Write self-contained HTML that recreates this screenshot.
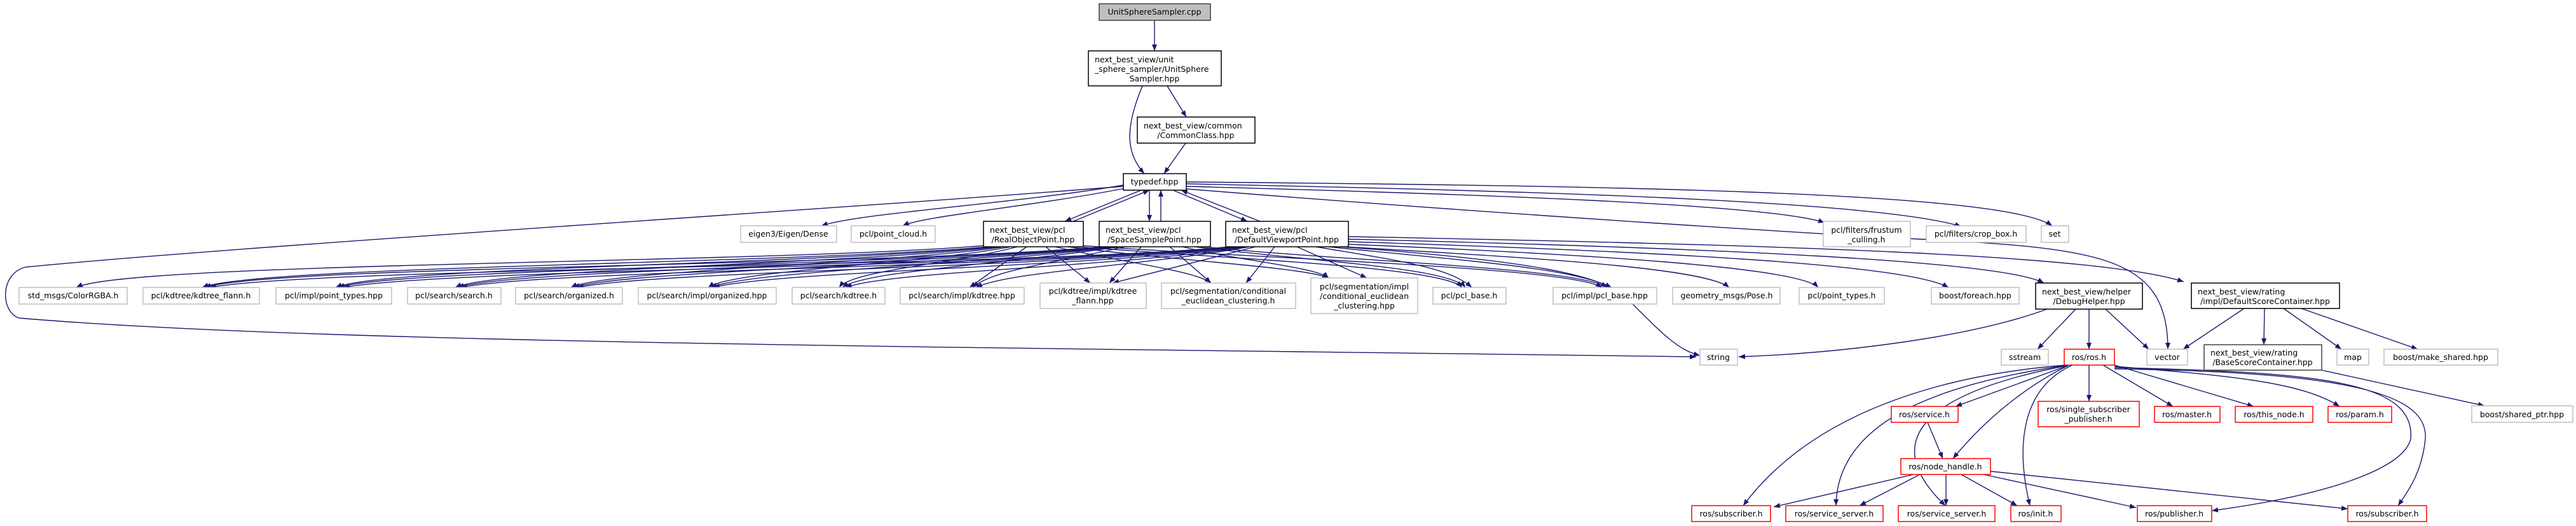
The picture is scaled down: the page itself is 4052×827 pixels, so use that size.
<!DOCTYPE html>
<html><head><meta charset="utf-8"><style>
html,body{margin:0;padding:0;background:#fff;}
svg{display:block;}
text{font-family:"DejaVu Sans","Liberation Sans",sans-serif;font-size:12.5px;fill:#000;}
.e{fill:none;stroke:#191970;stroke-width:1.4;marker-end:url(#a);}
.g{fill:#fff;stroke:#bfbfbf;stroke-width:1.5;}
.b{fill:#fff;stroke:#000;stroke-width:1.5;}
.r{fill:#fff;stroke:#ff0000;stroke-width:1.5;}
</style></head><body>
<svg width="4052" height="827" viewBox="0 0 4052 827" xmlns="http://www.w3.org/2000/svg">
<defs><marker id="a" markerUnits="userSpaceOnUse" markerWidth="11" markerHeight="8" refX="10" refY="4" orient="auto"><path d="M0,0 L10,4 L0,8 z" fill="#191970"/></marker></defs>
<g>
<path class="e" d="M1816,32 L1816,80"/>
<path class="e" d="M1836,135 L1866,184"/>
<path class="e" d="M1797,135 C1770,200 1770,240 1800,273"/>
<path class="e" d="M1865,225 L1831,273"/>
<path class="e" d="M1767,291 C1600,320 1350,335 1292,355"/>
<path class="e" d="M1770,296 C1620,325 1450,340 1420,355"/>
<path class="e" d="M1795,299 L1675,348"/>
<path class="e" d="M1688,348 L1808,299"/>
<path class="e" d="M1808,299 L1808,348"/>
<path class="e" d="M1826,348 L1826,299"/>
<path class="e" d="M1845,299 L1962,348"/>
<path class="e" d="M1982,348 L1858,299"/>
<path class="e" d="M1866,293 C2300,305 2780,320 2870,350"/>
<path class="e" d="M1866,289 C2400,300 2950,315 3085,356"/>
<path class="e" d="M1866,286 C2500,292 3150,300 3228,355"/>
<path class="e" d="M1866,297 C2400,340 2900,370 3000,375 C3300,390 3410,400 3410,549"/>
<path class="e" d="M1767,293 C1300,330 400,385 40,420 C0,430 0,490 30,500 C500,540 1500,545 2668,561"/>
<path class="e" d="M1550,386 C1200,415 200,412 120,452"/>
<path class="e" d="M1555,388 C1250,415 400,418 318,452"/>
<path class="e" d="M1560,388 C1300,415 600,420 528,452"/>
<path class="e" d="M1570,388 C1350,415 780,422 716,452"/>
<path class="e" d="M1580,388 C1400,415 950,425 898,452"/>
<path class="e" d="M1590,388 C1450,415 1150,425 1114,452"/>
<path class="e" d="M1600,388 C1500,415 1340,425 1320,452"/>
<path class="e" d="M1615,388 L1525,452"/>
<path class="e" d="M1645,388 L1715,445"/>
<path class="e" d="M1660,388 C1750,410 1880,425 1905,445"/>
<path class="e" d="M1680,388 C1850,410 2050,420 2090,437"/>
<path class="e" d="M1695,388 C1950,408 2270,420 2300,452"/>
<path class="e" d="M1700,386 C2000,408 2470,420 2520,452"/>
<path class="e" d="M1735,388 C1400,418 420,418 322,452"/>
<path class="e" d="M1740,388 C1420,418 620,422 532,452"/>
<path class="e" d="M1745,388 C1450,418 800,424 720,452"/>
<path class="e" d="M1750,388 C1480,418 980,426 902,452"/>
<path class="e" d="M1755,388 C1520,418 1180,426 1118,452"/>
<path class="e" d="M1760,388 C1560,418 1360,426 1325,452"/>
<path class="e" d="M1770,388 C1650,415 1560,425 1530,452"/>
<path class="e" d="M1795,388 L1745,445"/>
<path class="e" d="M1840,388 L1905,445"/>
<path class="e" d="M1860,388 C1950,410 2070,420 2090,437"/>
<path class="e" d="M1880,388 C2050,410 2280,420 2305,452"/>
<path class="e" d="M1895,388 C2100,410 2480,420 2528,452"/>
<path class="e" d="M1935,388 C1600,420 500,420 330,452"/>
<path class="e" d="M1940,388 C1620,420 700,422 540,452"/>
<path class="e" d="M1945,388 C1650,420 860,424 725,452"/>
<path class="e" d="M1950,388 C1680,420 1030,426 908,452"/>
<path class="e" d="M1955,388 C1720,420 1220,426 1122,452"/>
<path class="e" d="M1960,388 C1760,420 1400,426 1330,452"/>
<path class="e" d="M1965,388 C1800,418 1590,426 1535,452"/>
<path class="e" d="M1975,388 L1750,445"/>
<path class="e" d="M2005,388 L1960,445"/>
<path class="e" d="M2040,388 L2150,437"/>
<path class="e" d="M2070,388 C2200,410 2280,420 2315,452"/>
<path class="e" d="M2090,388 C2300,410 2470,420 2535,452"/>
<path class="e" d="M2115,388 C2400,405 2680,420 2720,452"/>
<path class="e" d="M2121,384 C2500,400 2830,420 2860,452"/>
<path class="e" d="M2121,380 C2600,395 3000,415 3065,452"/>
<path class="e" d="M2121,376 C2700,390 3150,410 3215,445"/>
<path class="e" d="M2121,372 C2800,385 3300,400 3435,443"/>
<path class="e" d="M2110,388 C2400,410 2520,430 2560,470 C2620,530 2640,550 2674,559"/>
<path class="e" d="M3220,486 C3100,530 2900,555 2735,561"/>
<path class="e" d="M3265,486 L3205,549"/>
<path class="e" d="M3286,486 L3286,549"/>
<path class="e" d="M3312,486 L3380,549"/>
<path class="e" d="M3530,485 L3434,549"/>
<path class="e" d="M3562,485 L3561,542"/>
<path class="e" d="M3592,485 L3683,549"/>
<path class="e" d="M3620,485 L3803,549"/>
<path class="e" d="M3652,582 L3908,638"/>
<path class="e" d="M3255,574 L3076,639"/>
<path class="e" d="M3286,574 L3286,631"/>
<path class="e" d="M3308,574 L3418,639"/>
<path class="e" d="M3326,574 L3545,639"/>
<path class="e" d="M3326,576 C3500,590 3620,600 3680,639"/>
<path class="e" d="M3255,574 C3200,600 3130,650 3072,721"/>
<path class="e" d="M3260,574 C3180,610 3170,700 3193,795"/>
<path class="e" d="M3250,574 C3050,590 2850,650 2742,795"/>
<path class="e" d="M3252,574 C3080,600 2890,650 2888,795"/>
<path class="e" d="M3256,574 C3010,620 2960,700 3060,795"/>
<path class="e" d="M3326,578 C3650,585 3800,600 3792,690 C3780,740 3650,780 3479,803"/>
<path class="e" d="M3326,580 C3700,585 3820,620 3815,690 C3810,740 3790,770 3772,795"/>
<path class="e" d="M3032,664 L3056,721"/>
<path class="e" d="M3010,746 L2790,797"/>
<path class="e" d="M3020,746 L2925,795"/>
<path class="e" d="M3061,746 L3061,795"/>
<path class="e" d="M3085,746 L3173,795"/>
<path class="e" d="M3120,746 L3360,798"/>
<path class="e" d="M3131,741 C3350,765 3550,785 3693,800"/>
</g>
<g>
<rect x="1729" y="6" width="175" height="26" fill="#bfbfbf" stroke="#404040" stroke-width="1.5"/><text x="1816" y="23" text-anchor="middle">UnitSphereSampler.cpp</text>
<rect class="b" x="1712" y="80" width="209" height="55"/><text x="1722" y="98">next_best_view/unit</text><text x="1722" y="113">_sphere_sampler/UnitSphere</text><text x="1816" y="128" text-anchor="middle">Sampler.hpp</text>
<rect class="b" x="1789" y="184" width="185" height="41"/><text x="1799" y="202">next_best_view/common</text><text x="1881" y="217" text-anchor="middle">/CommonClass.hpp</text>
<rect class="b" x="1767" y="273" width="99" height="26"/><text x="1816" y="290" text-anchor="middle">typedef.hpp</text>
<rect class="g" x="1165" y="355" width="151" height="26"/><text x="1240" y="372" text-anchor="middle">eigen3/Eigen/Dense</text>
<rect class="g" x="1339" y="355" width="132" height="26"/><text x="1405" y="372" text-anchor="middle">pcl/point_cloud.h</text>
<rect class="b" x="1547" y="348" width="157" height="40"/><text x="1557" y="366">next_best_view/pcl</text><text x="1625" y="381" text-anchor="middle">/RealObjectPoint.hpp</text>
<rect class="b" x="1729" y="348" width="175" height="40"/><text x="1739" y="366">next_best_view/pcl</text><text x="1816" y="381" text-anchor="middle">/SpaceSamplePoint.hpp</text>
<rect class="b" x="1928" y="348" width="193" height="40"/><text x="1938" y="366">next_best_view/pcl</text><text x="2024" y="381" text-anchor="middle">/DefaultViewportPoint.hpp</text>
<rect class="g" x="2868" y="348" width="137" height="40"/><text x="2936" y="366" text-anchor="middle">pcl/filters/frustum</text><text x="2936" y="381" text-anchor="middle">_culling.h</text>
<rect class="g" x="3030" y="355" width="157" height="26"/><text x="3108" y="372" text-anchor="middle">pcl/filters/crop_box.h</text>
<rect class="g" x="3211" y="355" width="43" height="26"/><text x="3232" y="372" text-anchor="middle">set</text>

<rect class="g" x="30" y="452" width="170" height="26"/><text x="115" y="469" text-anchor="middle">std_msgs/ColorRGBA.h</text>
<rect class="g" x="225" y="452" width="183" height="26"/><text x="316" y="469" text-anchor="middle">pcl/kdtree/kdtree_flann.h</text>
<rect class="g" x="434" y="452" width="182" height="26"/><text x="525" y="469" text-anchor="middle">pcl/impl/point_types.hpp</text>
<rect class="g" x="641" y="452" width="147" height="26"/><text x="714" y="469" text-anchor="middle">pcl/search/search.h</text>
<rect class="g" x="811" y="452" width="168" height="26"/><text x="895" y="469" text-anchor="middle">pcl/search/organized.h</text>
<rect class="g" x="1004" y="452" width="217" height="26"/><text x="1112" y="469" text-anchor="middle">pcl/search/impl/organized.hpp</text>
<rect class="g" x="1246" y="452" width="146" height="26"/><text x="1319" y="469" text-anchor="middle">pcl/search/kdtree.h</text>
<rect class="g" x="1416" y="452" width="195" height="26"/><text x="1513" y="469" text-anchor="middle">pcl/search/impl/kdtree.hpp</text>
<rect class="g" x="1636" y="445" width="167" height="40"/><text x="1719" y="462" text-anchor="middle">pcl/kdtree/impl/kdtree</text><text x="1719" y="477" text-anchor="middle">_flann.hpp</text>
<rect class="g" x="1827" y="445" width="211" height="40"/><text x="1932" y="462" text-anchor="middle">pcl/segmentation/conditional</text><text x="1932" y="477" text-anchor="middle">_euclidean_clustering.h</text>
<rect class="g" x="2062" y="437" width="168" height="56"/><text x="2146" y="455" text-anchor="middle">pcl/segmentation/impl</text><text x="2146" y="470" text-anchor="middle">/conditional_euclidean</text><text x="2146" y="485" text-anchor="middle">_clustering.hpp</text>
<rect class="g" x="2254" y="452" width="115" height="26"/><text x="2311" y="469" text-anchor="middle">pcl/pcl_base.h</text>
<rect class="g" x="2443" y="452" width="163" height="26"/><text x="2524" y="469" text-anchor="middle">pcl/impl/pcl_base.hpp</text>
<rect class="g" x="2631" y="452" width="169" height="26"/><text x="2716" y="469" text-anchor="middle">geometry_msgs/Pose.h</text>
<rect class="g" x="2830" y="452" width="134" height="26"/><text x="2897" y="469" text-anchor="middle">pcl/point_types.h</text>
<rect class="g" x="3038" y="452" width="138" height="26"/><text x="3107" y="469" text-anchor="middle">boost/foreach.hpp</text>
<rect class="b" x="3202" y="445" width="168" height="41"/><text x="3212" y="463">next_best_view/helper</text><text x="3286" y="478" text-anchor="middle">/DebugHelper.hpp</text>
<rect class="b" x="3447" y="445" width="233" height="40"/><text x="3457" y="463">next_best_view/rating</text><text x="3563" y="478" text-anchor="middle">/impl/DefaultScoreContainer.hpp</text>

<rect class="g" x="2674" y="549" width="59" height="25"/><text x="2703" y="566" text-anchor="middle">string</text>
<rect class="g" x="3148" y="549" width="74" height="25"/><text x="3185" y="566" text-anchor="middle">sstream</text>
<rect class="r" x="3247" y="549" width="79" height="25"/><text x="3286" y="566" text-anchor="middle">ros/ros.h</text>
<rect class="g" x="3377" y="549" width="64" height="25"/><text x="3409" y="566" text-anchor="middle">vector</text>
<rect x="3467" y="542" width="185" height="40" fill="#fff" stroke="#404040" stroke-width="1.5"/><text x="3477" y="559">next_best_view/rating</text><text x="3559" y="574" text-anchor="middle">/BaseScoreContainer.hpp</text>
<rect class="g" x="3676" y="549" width="50" height="25"/><text x="3701" y="566" text-anchor="middle">map</text>
<rect class="g" x="3750" y="549" width="179" height="25"/><text x="3839" y="566" text-anchor="middle">boost/make_shared.hpp</text>

<rect class="r" x="2975" y="639" width="105" height="25"/><text x="3027" y="656" text-anchor="middle">ros/service.h</text>
<rect class="r" x="3206" y="631" width="159" height="40"/><text x="3285" y="648" text-anchor="middle">ros/single_subscriber</text><text x="3285" y="663" text-anchor="middle">_publisher.h</text>
<rect class="r" x="3389" y="639" width="103" height="25"/><text x="3440" y="656" text-anchor="middle">ros/master.h</text>
<rect class="r" x="3516" y="639" width="122" height="25"/><text x="3577" y="656" text-anchor="middle">ros/this_node.h</text>
<rect class="r" x="3662" y="639" width="100" height="25"/><text x="3712" y="656" text-anchor="middle">ros/param.h</text>
<rect class="g" x="3888" y="638" width="159" height="26"/><text x="3967" y="656" text-anchor="middle">boost/shared_ptr.hpp</text>
<rect class="r" x="2990" y="721" width="141" height="25"/><text x="3060" y="738" text-anchor="middle">ros/node_handle.h</text>

<rect class="r" x="2661" y="795" width="124" height="25"/><text x="2723" y="812" text-anchor="middle">ros/subscriber.h</text>
<rect class="r" x="2809" y="795" width="153" height="25"/><text x="2885" y="812" text-anchor="middle">ros/service_server.h</text>
<rect class="r" x="2986" y="795" width="152" height="25"/><text x="3062" y="812" text-anchor="middle">ros/service_server.h</text>
<rect class="r" x="3163" y="795" width="79" height="25"/><text x="3202" y="812" text-anchor="middle">ros/init.h</text>
<rect class="r" x="3362" y="795" width="117" height="25"/><text x="3420" y="812" text-anchor="middle">ros/publisher.h</text>
<rect class="r" x="3693" y="795" width="124" height="25"/><text x="3755" y="812" text-anchor="middle">ros/subscriber.h</text>
</g>
</svg>
</body></html>
